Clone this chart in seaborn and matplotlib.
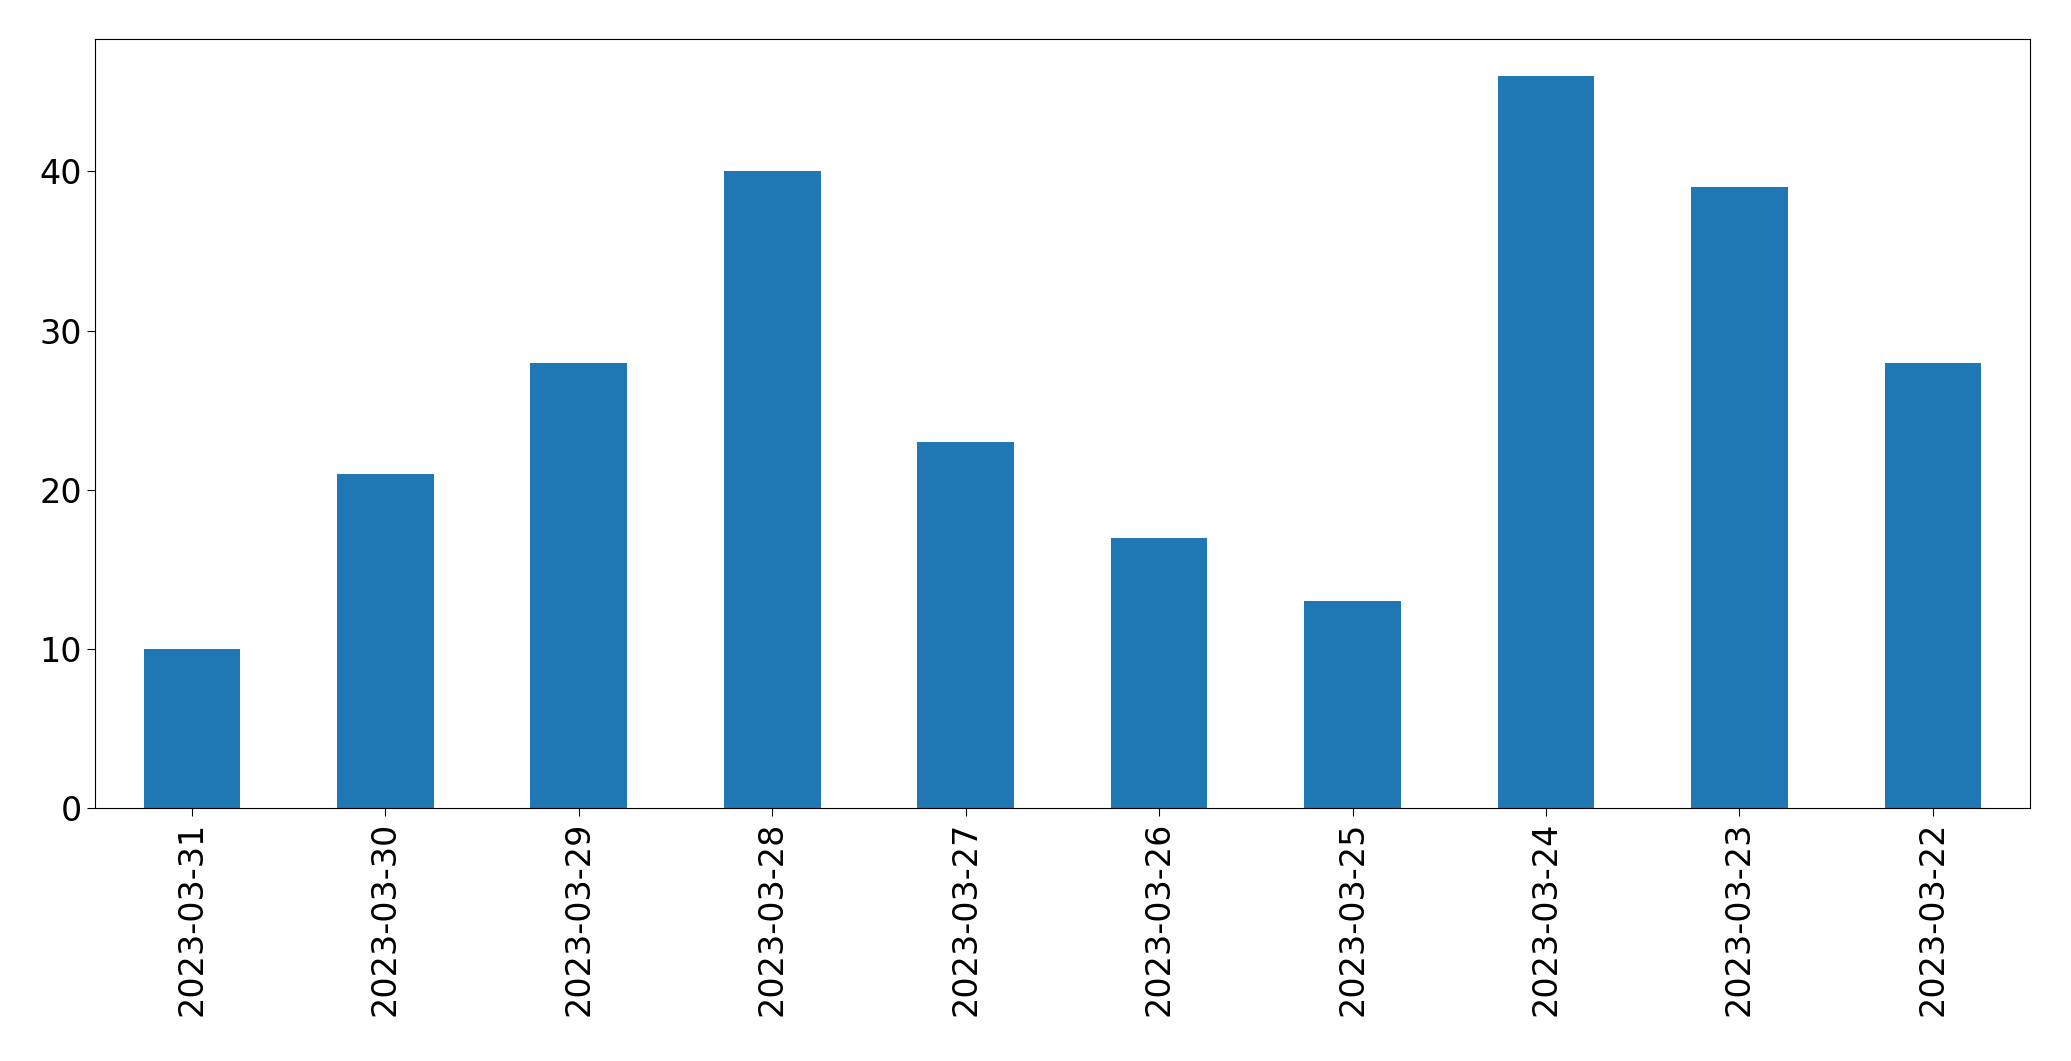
import matplotlib
matplotlib.use("Agg")
import matplotlib.pyplot as plt
import seaborn as sns
import pandas as pd

dates = ["2023-03-31","2023-03-30","2023-03-29","2023-03-28","2023-03-27",
         "2023-03-26","2023-03-25","2023-03-24","2023-03-23","2023-03-22"]
counts = [10, 21, 28, 40, 23, 17, 13, 46, 39, 28]

df = pd.DataFrame({"date": dates, "count": counts})
fig = plt.figure(figsize=(20.71, 10.61), dpi=100)
ax = fig.add_axes([0.046, 0.238, 0.934, 0.725])
sns.barplot(data=df, x="date", y="count", color="#1f77b4", saturation=1, width=0.5, ax=ax)
ax.set_xlim(-0.5, len(dates) - 0.5)
ax.set_ylim(0, max(counts) * 1.05)
ax.set_xlabel("")
ax.set_ylabel("")
ax.tick_params(axis="both", labelsize=24, length=6)
plt.setp(ax.get_xticklabels(), rotation=90)
fig.savefig("out.png", dpi=100)
